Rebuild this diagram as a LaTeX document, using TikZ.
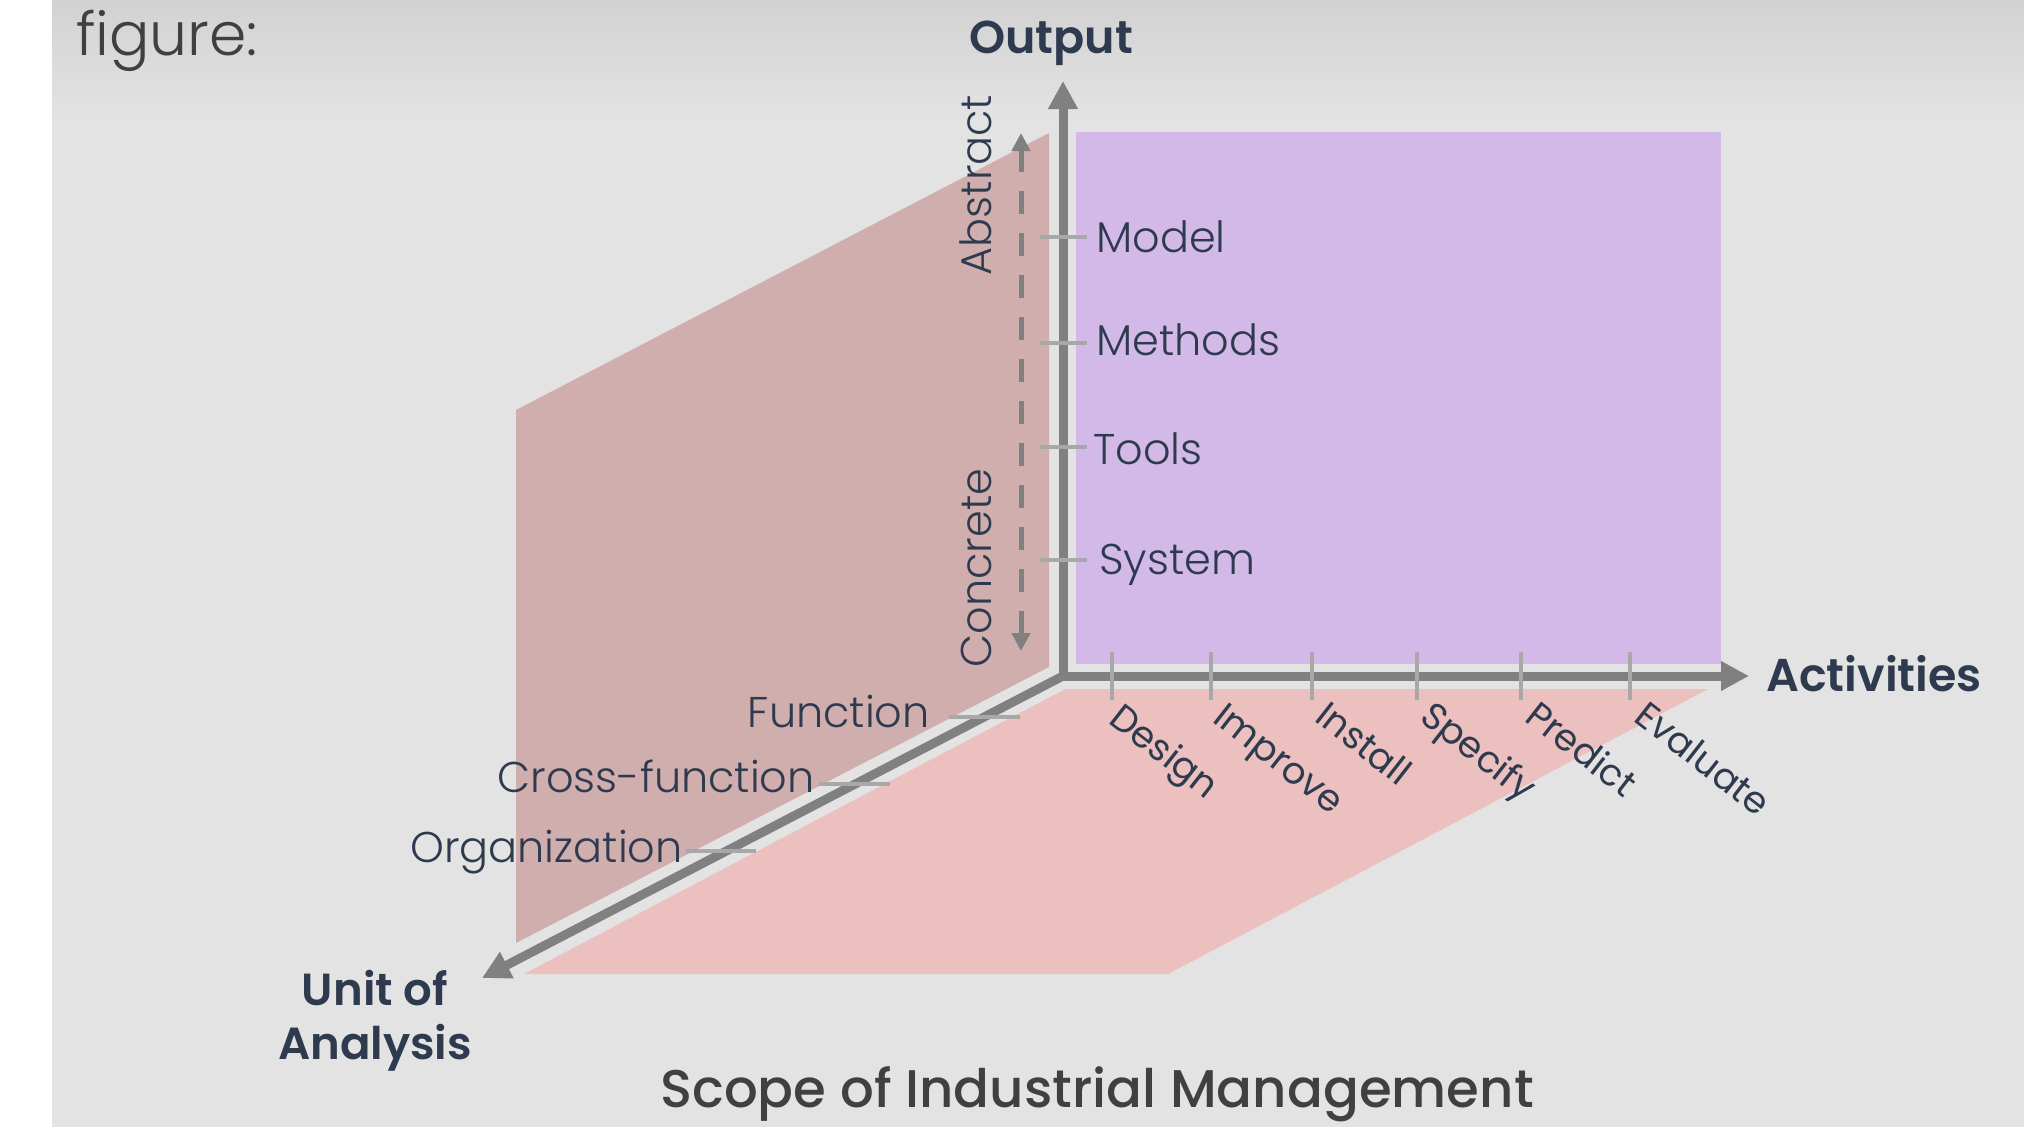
\documentclass[tikz,border=0pt]{standalone}
\usepackage{fontspec}
\setmainfont{Poppins}
\newfontfamily\plight{Poppins}[UprightFont={* Light}]
\newfontfamily\pmed{Poppins}[UprightFont={* Medium}]
\newfontfamily\psemi{Poppins}[UprightFont={* SemiBold}]
\usetikzlibrary{arrows.meta}
\definecolor{bg}{HTML}{E3E3E3}
\definecolor{bgtop}{HTML}{D2D2D2}
\definecolor{purp}{HTML}{D2B9E8}
\definecolor{wall}{HTML}{D1AEAE}
\definecolor{floorc}{HTML}{EBC0BF}
\definecolor{axisc}{HTML}{808080}
\definecolor{tickc}{HTML}{A8A8A8}
\definecolor{navy}{HTML}{2E3A4E}
\definecolor{dgray}{HTML}{404040}
\tikzset{
  axisline/.style={draw=axisc, line width=9pt, -{Triangle[length=28pt,width=28pt]}},
  halo/.style={draw=bg, line width=25pt, line cap=round},
  tickline/.style={draw=tickc, line width=4pt},
  dasharrow/.style={draw=axisc, line width=5pt, dash pattern=on 23pt off 19pt,
     {Triangle[length=18pt,width=18pt]}-{Triangle[length=18pt,width=18pt]}},
  lab/.style={inner sep=0pt, text=navy, font=\plight\fontsize{43}{50}\selectfont},
  blab/.style={inner sep=0pt, text=navy, font=\psemi\fontsize{46}{54}\selectfont},
  actlab/.style={inner sep=0pt, text=navy, font=\fontsize{37}{44}\selectfont, rotate=-38, anchor=base west},
}
\begin{document}
\begin{tikzpicture}[x=1pt,y=-1pt]
\useasboundingbox (0,0) rectangle (2024,1127);
% background
\fill[bg] (0,0) rectangle (2024,1127);
\shade[top color=bgtop, bottom color=bg] (52,0) rectangle (2024,120);
\fill[white] (0,0) rectangle (52,1127);
% planes
\fill[wall] (516,410) -- (1049,133) -- (1049,667) -- (516,943) -- cycle;
\fill[floorc] (1067,688) -- (1710,688) -- (1168,974) -- (524,974) -- cycle;
\fill[purp] (1074,132) rectangle (1721,664);
% axes
\coordinate (O) at (1063,676);
\coordinate (Up) at (1063,81);
\coordinate (Right) at (1749,676);
\coordinate (Diag) at (482,978);
\coordinate (HUp) at (1063,133);
\coordinate (HRight) at (1718,676);
\coordinate (HDiag) at (525,956);
\draw[halo] (O) -- (HUp);
\draw[halo] (O) -- (HRight);
\draw[halo] (O) -- (HDiag);
\draw[axisline] (O) -- (Up);
\draw[axisline] (O) -- (Right);
\draw[axisline] (O) -- (Diag);
% dashed abstract/concrete arrow
\coordinate (DTop) at (1021,133);
\coordinate (DBot) at (1021,651);
\draw[dasharrow] (DBot) -- (DTop);
% ticks on output axis
\foreach \y in {237,343,447,560} \draw[tickline] (1040,\y) -- (1087,\y);
% ticks on activities axis
\foreach \x in {1112,1211,1312,1417,1521,1630} \draw[tickline] (\x,652) -- (\x,700);
% ticks on unit axis
\draw[tickline] (949,717) -- (1020,717);
\draw[tickline] (819,784) -- (890,784);
\draw[tickline] (686,851) -- (756,851);
% texts
\node[inner sep=0pt, anchor=base west, text=dgray, font=\plight\fontsize{60}{70}\selectfont] (fig) at (76,55) {figure:};
\node[blab, anchor=base] (out) at (1051,53) {Output};
\node[blab, anchor=base west] (act) at (1766,691) {Activities};
\node[blab, anchor=base, align=center, font=\psemi\fontsize{45}{54}\selectfont] (unit) at (375,1059) {Unit of\\Analysis};
\node[inner sep=0pt, anchor=base, text=dgray, font=\pmed\fontsize{53}{60}\selectfont] (scope) at (1097,1107) {Scope of Industrial Management};
\node[lab, anchor=base west] (model) at (1096,252) {Model};
\node[lab, anchor=base west] (methods) at (1096,355) {Methods};
\node[lab, anchor=base west] (tools) at (1093,464) {Tools};
\node[lab, anchor=base west] (system) at (1099,574) {System};
\node[lab, anchor=base, rotate=90] (abstract) at (991,185) {Abstract};
\node[lab, anchor=base, rotate=90] (concrete) at (991,568) {Concrete};
\node[lab, anchor=base east] (function) at (930,727) {Function};
\node[lab, anchor=base east] (cross) at (815,792) {Cross-function};
\node[lab, anchor=base east] (org) at (683,862) {Organization};
\node[actlab] (design) at (1107,722) {Design};
\node[actlab] (improve) at (1211,721) {Improve};
\node[actlab] (install) at (1313,720) {Install};
\node[actlab] (specify) at (1418,720) {Specify};
\node[actlab] (predict) at (1523,720) {Predict};
\node[actlab] (evaluate) at (1632,720) {Evaluate};
\end{tikzpicture}
\end{document}
